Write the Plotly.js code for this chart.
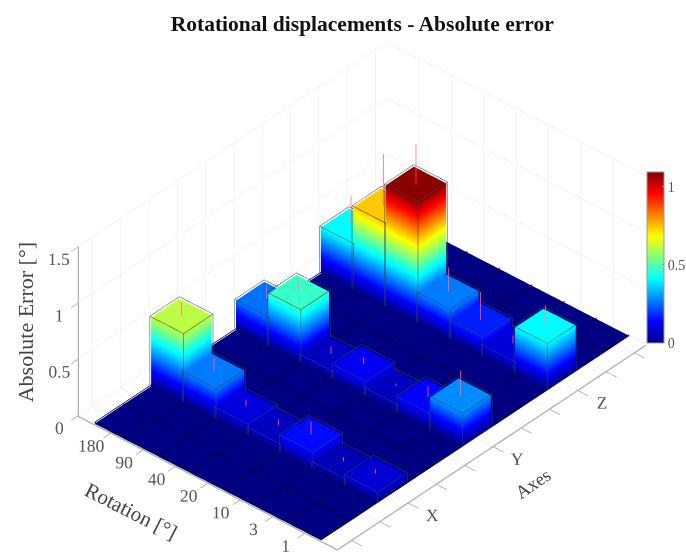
<!DOCTYPE html>
<html><head><meta charset="utf-8">
<script src="https://cdn.plot.ly/plotly-3.0.1.min.js"></script>
<style>html,body{margin:0;padding:0;background:#fff}#p{width:686px;height:554px}</style></head>
<body><div id="p"></div>
<script>
const rotationLabels=['180','90','40','20','10','3','1'];
const axisLabels=['','','X','','','Y','','','Z','',''];
const rowPositions=[3,6,9];
const valuesX=[0.61,0.27,0.10,0.07,0.15,0.06,0.09];
const valuesY=[0.26,0.47,0.07,0.13,0.07,0.14,0.29];
const valuesZ=[0.41,0.74,1.08,0.27,0.17,0.10,0.41];
const errorsX=[0.13,0.12,0.07,0.07,0.12,0.044,0.052];
const errorsY=[0.13,0.11,0.07,0.06,0.036,0.094,0.23];
const errorsZ=[0.27,0.46,0.36,0.22,0.25,0.08,0.19];
const rows=[valuesX,valuesY,valuesZ], errs=[errorsX,errorsY,errorsZ];
const colorMax=1.094;
const jet=[[0,'rgb(0,0,131)'],[0.125,'rgb(0,0,255)'],[0.375,'rgb(0,255,255)'],[0.625,'rgb(255,255,0)'],[0.875,'rgb(255,0,0)'],[1,'rgb(128,0,0)']];
const rMin=0.5,rMax=7.5,aMin=0.5,aMax=11.4;
let X=[],Y=[],Z=[],I=[],J=[],K=[];
function quad(p){const n=X.length;p.forEach(q=>{X.push(q[0]);Y.push(q[1]);Z.push(q[2]);});I.push(n,n);J.push(n+1,n+2);K.push(n+2,n+3);}
quad([[rMin,aMin,0],[rMax,aMin,0],[rMax,aMax,0],[rMin,aMax,0]]);
let ex=[],ey=[],ez=[],fx=[],fy=[],fz=[];
function seg(a,b){ex.push(a[0],b[0],null);ey.push(a[1],b[1],null);ez.push(a[2],b[2],null);}
function fseg(a,b){fx.push(a[0],b[0],null);fy.push(a[1],b[1],null);fz.push(a[2],b[2],null);}
let rx=[],ry=[],rz=[];
const pad=0.02,lift=0.012;
rows.forEach((vals,ri)=>{const a=rowPositions[ri];vals.forEach((h,i)=>{
 const r=i+1,r0=r-.5,r1=r+.5,a0=a-.5,a1=a+.5;
 quad([[r0,a0,h],[r1,a0,h],[r1,a1,h],[r0,a1,h]]);
 quad([[r0,a0,0],[r1,a0,0],[r1,a0,h],[r0,a0,h]]);
 quad([[r1,a0,0],[r1,a1,0],[r1,a1,h],[r1,a0,h]]);
 quad([[r0,a1,0],[r1,a1,0],[r1,a1,h],[r0,a1,h]]);
 quad([[r0,a0,0],[r0,a1,0],[r0,a1,h],[r0,a0,h]]);
 const R0=r0-pad,R1=r1+pad,A0=a0-pad,A1=a1+pad,H=h+lift;
 seg([R0,A0,H],[R1,A0,H]);seg([R1,A0,H],[R1,A1,H]);seg([R1,A1,H],[R0,A1,H]);seg([R0,A1,H],[R0,A0,H]);
 seg([R1,A0,lift],[R1,A0,H]);seg([R0,A0,lift],[R0,A0,H]);seg([R1,A1,lift],[R1,A1,H]);
 rx.push(r,r,null);ry.push(a,a,null);rz.push(h,h+errs[ri][i],null);
});});
for(let r=0.5;r<=7.5;r++)fseg([r,aMin,0.012],[r,aMax,0.012]);
for(let a=0.5;a<=10.5;a++)fseg([rMin,a,0.012],[rMax,a,0.012]);
const font='"Liberation Serif",serif';
const axisCommon={showbackground:false,showgrid:true,gridcolor:'#e6e6e6',gridwidth:1,zeroline:false,showline:true,linecolor:'#b0b0b0',linewidth:3,
 ticks:'outside',ticklen:8,tickcolor:'#b0b0b0',tickwidth:2,tickfont:{family:font,size:14.5,color:'#555'},showspikes:false,tickangle:0};
const data=[
 {type:'mesh3d',x:X,y:Y,z:Z,i:I,j:J,k:K,intensity:Z,colorscale:jet,cmin:0,cmax:colorMax,flatshading:false,
  lighting:{ambient:1,diffuse:0,specular:0,roughness:1,fresnel:0},hoverinfo:'skip',
  colorbar:{thickness:17,len:171,lenmode:'pixels',x:647/686,xanchor:'left',y:211/554,yanchor:'bottom',xpad:0,ypad:0,outlinecolor:'#999',outlinewidth:1,
   tickvals:[0,0.5,1],ticktext:['0','0.5','1'],ticks:'inside',ticklen:2,tickcolor:'#999',tickfont:{family:font,size:14,color:'#555'}}},
 {type:'scatter3d',mode:'lines',x:fx,y:fy,z:fz,line:{color:'rgb(0,0,60)',width:1.5},hoverinfo:'skip',showlegend:false},
 {type:'scatter3d',mode:'lines',x:ex,y:ey,z:ez,line:{color:'rgb(45,70,80)',width:1},hoverinfo:'skip',showlegend:false},
 {type:'scatter3d',mode:'lines',x:rx,y:ry,z:rz,line:{color:'rgba(250,50,70,0.65)',width:2},hoverinfo:'skip',showlegend:false}
];
const tf=s=>({family:font,size:s,color:'#444'});
const layout={width:686,height:554,margin:{l:0,r:0,t:0,b:0,autoexpand:false},paper_bgcolor:'#fff',showlegend:false,
 title:{text:'Rotational displacements - Absolute error',x:0.528,xanchor:'center',y:0.958,yanchor:'middle',font:{family:font,size:21.5,color:'#111',weight:'bold'}},
 scene:{domain:{x:[0.052,1],y:[0,0.936]},aspectmode:'manual',aspectratio:{x:1.33,y:1.797,z:0.807},
  camera:{projection:{type:'orthographic'},eye:{x:1.068,y:-1.218,z:1.174},center:{x:-0.003,y:-0.0026,z:0.007},up:{x:0,y:0,z:1}},
  xaxis:Object.assign({},axisCommon,{range:[0,8],ticklen:14,tickvals:[1,2,3,4,5,6,7],ticktext:rotationLabels,title:{text:''}}),
  yaxis:Object.assign({},axisCommon,{range:[aMin,aMax],ticklen:11,tickvals:[1,2,3,4,5,6,7,8,9,10,11],ticktext:axisLabels,title:{text:''}}),
  zaxis:Object.assign({},axisCommon,{range:[-0.01,1.5],tickvals:[0,0.5,1,1.5],ticktext:['0','0.5','1','1.5'],title:{text:''}}),
  annotations:[
   {x:4,y:0.5,z:0,text:'Rotation [°]',showarrow:false,textangle:27,font:tf(21),xshift:-77,yshift:-29},
   {x:8,y:6,z:0,text:'Axes',showarrow:false,textangle:-34,font:tf(18.5),xshift:40,yshift:-38},
   {x:0,y:0.5,z:0.75,text:'Absolute Error [°]',showarrow:false,textangle:-90,font:tf(22),xshift:-53,yshift:9}
  ]
 }};
Plotly.newPlot('p',data,layout,{displayModeBar:false});
</script></body></html>
